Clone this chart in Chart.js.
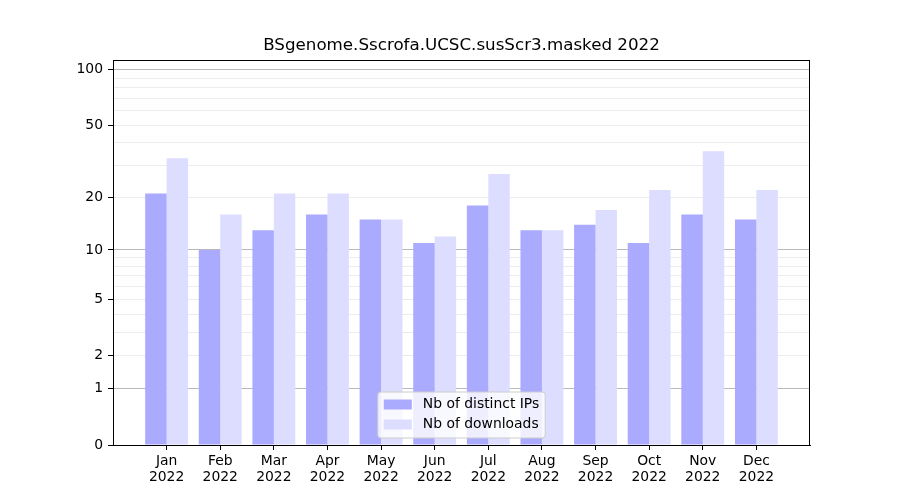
<!DOCTYPE html>
<html>
<head>
<meta charset="utf-8">
<script src="https://cdn.jsdelivr.net/npm/chart.js"></script>
<style>
  body { margin: 0; background: #fff; }
  #wrap { width: 900px; height: 500px; }
</style>
</head>
<body>
<div id="wrap"><canvas id="myChart" width="900" height="500"></canvas></div>
<script>
    // data
    const months = ['Jan', 'Feb', 'Mar', 'Apr', 'May', 'Jun', 'Jul', 'Aug', 'Sep', 'Oct', 'Nov', 'Dec'];
    const year = '2022';
    const distinctIPs = [21, 10, 13, 16, 15, 11, 18, 13, 14, 11, 16, 15];
    const downloads = [33, 16, 21, 21, 15, 12, 27, 13, 17, 22, 36, 22];
    const tickLabels = [0, 1, 2, 5, 10, 20, 50, 100];
    const majorLines = [1, 10, 100];
    const gridValues = [0, 1, 2, 3, 4, 5, 6, 7, 8, 9, 10, 20, 30, 40, 50, 60, 70, 80, 90, 100];

    const FONT = 'DejaVu Sans';
    const tf = v => Math.log10(1 + v);        // log(1+x) axis
    const untf = t => Math.round(Math.pow(10, t) - 1);

    // one empty slot each side, like the matplotlib margins
    const labels = [''].concat(months.map(m => [m, year]), ['']);
    const pad = arr => [null].concat(arr.map(tf), [null]);

    const frameAndLegend = {
        id: 'frameAndLegend',
        afterLayout(chart) {
            // centre the title over the axes, not the canvas
            const t = chart.titleBlock;
            if (t) {
                t.left = chart.chartArea.left;
                t.right = chart.chartArea.right;
                t.width = t.right - t.left;
            }
        },
        afterDraw(chart) {
            const ctx = chart.ctx;
            const a = chart.chartArea;
            ctx.save();
            ctx.strokeStyle = '#000';
            ctx.lineWidth = 1;
            ctx.strokeRect(Math.round(a.left) + 0.5, Math.round(a.top) + 0.5,
                Math.round(a.right - a.left) - 1, Math.round(a.bottom - a.top));

            // legend box, lower centre of the axes
            ctx.font = '13.9px "' + FONT + '"';
            const items = chart.data.datasets;
            const tw = Math.max(...items.map(d => ctx.measureText(d.label).width));
            const w = 6 + 28 + 11 + tw + 6;
            const h = 46;
            const x = (a.left + a.right) / 2 - w / 2;
            const y = a.bottom - 7 - h;
            ctx.beginPath();
            ctx.roundRect(x, y, w, h, 3);
            ctx.fillStyle = 'rgba(255,255,255,0.8)';
            ctx.fill();
            ctx.strokeStyle = '#cccccc';
            ctx.stroke();
            items.forEach((d, i) => {
                const cy = y + 12.5 + i * 20;
                ctx.fillStyle = d.backgroundColor;
                ctx.fillRect(x + 6, cy - 5, 28, 10);
                ctx.fillStyle = '#000';
                ctx.textBaseline = 'middle';
                ctx.textAlign = 'left';
                ctx.fillText(d.label, x + 45, cy);
            });
            ctx.restore();
        }
    };

    const ctx = document.getElementById('myChart');
    const myChart = new Chart(ctx, {
        type: 'bar',
        data: {
            labels: labels,
            datasets: [
                { label: 'Nb of distinct IPs', data: pad(distinctIPs), backgroundColor: '#aaaaff' },
                { label: 'Nb of downloads', data: pad(downloads), backgroundColor: '#ddddff' }
            ]
        },
        options: {
            responsive: false,
            animation: false,
            devicePixelRatio: 1,
            categoryPercentage: 0.8,
            barPercentage: 1.0,
            layout: { padding: { left: 0, right: 90, top: 0, bottom: 0 } },
            plugins: {
                legend: { display: false },
                tooltip: { enabled: false },
                title: {
                    display: true,
                    text: 'BSgenome.Sscrofa.UCSC.susScr3.masked 2022',
                    color: '#000',
                    font: { family: FONT, size: 16.7, weight: 'normal' },
                    padding: { top: 36, bottom: 4 }
                }
            },
            scales: {
                x: {
                    offset: false,
                    afterFit: s => { s.height = 55; },
                    grid: {
                        offset: false,
                        drawOnChartArea: false,
                        drawTicks: true,
                        tickLength: 5,
                        tickColor: c => (c.index === 0 || c.index === labels.length - 1) ? 'rgba(0,0,0,0)' : '#000'
                    },
                    border: { color: '#000' },
                    ticks: {
                        autoSkip: false,
                        maxRotation: 0,
                        padding: 3,
                        color: '#000',
                        font: { family: FONT, size: 13.9, lineHeight: 1.15 }
                    }
                },
                y: {
                    min: 0,
                    max: 2.0555,
                    z: 1,
                    afterFit: s => { s.width = 113; },
                    afterBuildTicks: s => { s.ticks = gridValues.map(v => ({ value: tf(v) })); },
                    grid: {
                        tickLength: 5,
                        color: c => {
                            const v = untf(c.tick.value);
                            if (v === 0) return 'rgba(0,0,0,0)';
                            return majorLines.includes(v) ? 'rgba(128,128,128,0.55)' : 'rgba(128,128,128,0.15)';
                        },
                        tickColor: c => tickLabels.includes(untf(c.tick.value)) ? '#000' : 'rgba(0,0,0,0)'
                    },
                    border: { color: '#000' },
                    ticks: {
                        autoSkip: false,
                        padding: 5,
                        color: '#000',
                        font: { family: FONT, size: 13.9 },
                        callback: value => {
                            const v = untf(value);
                            return tickLabels.includes(v) ? String(v) : '';
                        }
                    }
                }
            }
        },
        plugins: [frameAndLegend]
    });
</script>
</body>
</html>
